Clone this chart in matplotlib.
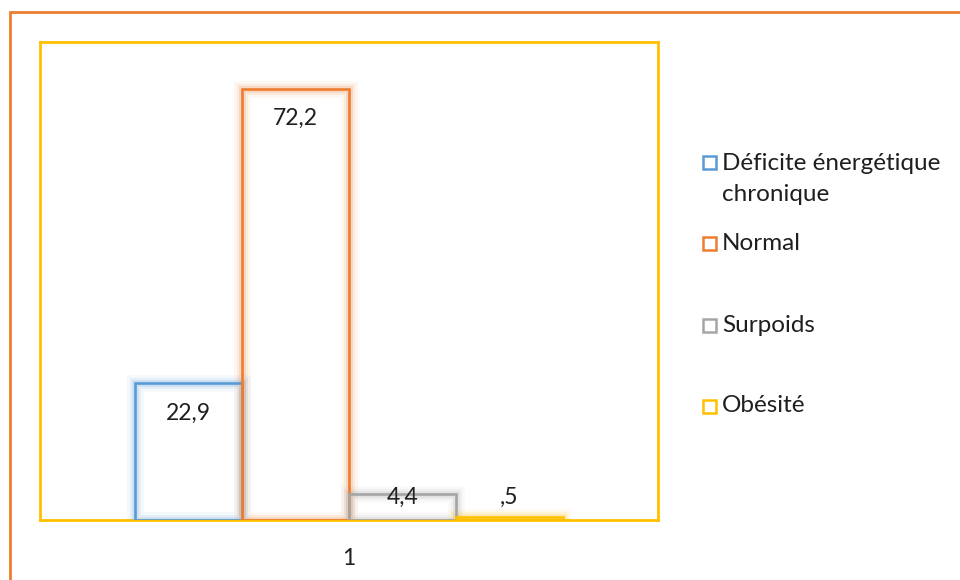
import numpy as np
import matplotlib
matplotlib.use("Agg")
import matplotlib.pyplot as plt
from matplotlib.patches import Rectangle

plt.rcParams['font.family'] = ['Lato', 'DejaVu Sans']

# data
categories = ["1"]
series = ["Déficite énergétique\nchronique", "Normal", "Surpoids", "Obésité"]
values = [22.9, 72.2, 4.4, 0.5]
labels = ["22,9", "72,2", "4,4", ",5"]
colors = ["#5B9BD5", "#ED7D31", "#A5A5A5", "#FFC000"]

FS = 16.5
LFS = 17.5
TXT = "#1f1f1f"

fig = plt.figure(figsize=(9.6, 5.8), dpi=100)
ax = fig.add_axes([40/960, 60/580, 618/960, 478/580])

width = 0.173
x0 = np.arange(len(categories))
offsets = (np.arange(len(series)) - 1.5) * width

for i in range(len(series)):
    xs = x0 + offsets[i]
    # white face
    ax.bar(xs, [values[i]], width, color="white", edgecolor="none", zorder=2)
    # soft glow around the outline
    for lw, a in [(12, 0.06), (8, 0.10), (5, 0.16)]:
        ax.bar(xs, [values[i]], width, color="none", edgecolor=colors[i],
               linewidth=lw, alpha=a, zorder=3)
    ax.bar(xs, [values[i]], width, color="none", edgecolor=colors[i],
           linewidth=1.9, zorder=4)
    for x, v, lab in zip(xs, [values[i]], [labels[i]]):
        ax.text(x, max(v - 5.0, 3.85), lab, ha="center", va="center",
                fontsize=FS, color=TXT, zorder=5)

ax.set_xlim(-0.5, 0.5)
ax.set_ylim(0, 80)
ax.set_yticks([])
ax.set_xticks(x0)
ax.set_xticklabels(categories, fontsize=FS, color=TXT)
ax.tick_params(axis="x", length=0, pad=20)
for s in ax.spines.values():
    s.set_color("#FFC000")
    s.set_linewidth(2)

# outer frame
frame = Rectangle((10/960, -0.05), 1.1, 1 - 12/580 + 0.05, transform=fig.transFigure,
                  fill=False, edgecolor="#ED7D31", linewidth=2, clip_on=False)
fig.add_artist(frame)

# legend, one line at a time so the wrapped entry keeps its spacing
leg_y = [163, 243, 325, 406]
for i in range(len(series)):
    y = 1 - leg_y[i]/580
    fig.add_artist(Rectangle((703/960, y - 6.5/580), 13/960, 13/580,
                             transform=fig.transFigure, fill=False,
                             edgecolor=colors[i], linewidth=1.8))
    for k, line in enumerate(series[i].split("\n")):
        fig.text(722/960, y - k*32/580, line, ha="left", va="center",
                 fontsize=LFS, color=TXT)

fig.savefig("out.png", dpi=100)
